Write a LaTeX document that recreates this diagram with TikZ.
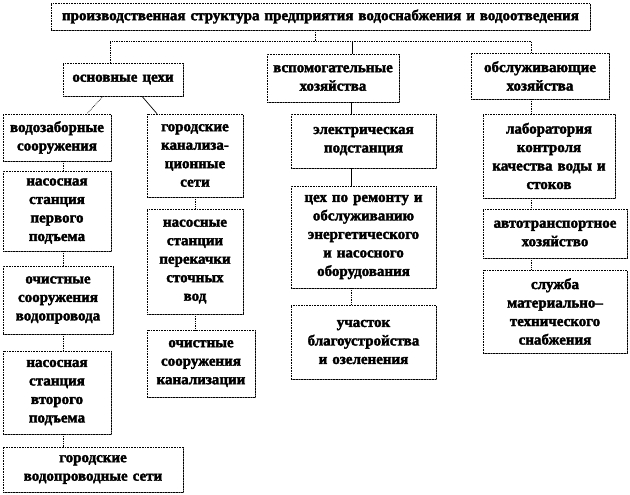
\documentclass[tikz,border=0pt]{standalone}
\usepackage{fontspec}
\setmainfont{Liberation Serif}
\newfontfamily\bxfont[FakeBold=2.2]{Liberation Serif}
\usetikzlibrary{shadows}
\tikzset{
  box/.style={draw, densely dotted, line width=0.6pt, fill=white, inner sep=0pt,
    align=center, font=\bxfont\bfseries\fontsize{15}{18.5}\selectfont,
    drop shadow={shadow xshift=1.2pt, shadow yshift=-1.2pt, fill=black!60, opacity=1}},
  dotc/.style={densely dotted, line width=0.7pt},
  solc/.style={line width=0.7pt},
}
\newcommand\bx[6]{%
  \pgfmathsetmacro\bxw{#4-#2}\pgfmathsetmacro\bxh{#5-#3}%
  \pgfmathsetmacro\bxcx{(#2+#4)/2}\pgfmathsetmacro\bxcy{(#3+#5)/2}%
  \pgfmathsetmacro\bxtw{#4-#2-4}%
  \node[box, minimum width=\bxw pt, minimum height=\bxh pt, text width=\bxtw pt] (#1) at (\bxcx,\bxcy) {#6};}
\begin{document}
\begin{tikzpicture}[x=1pt,y=-1pt]
\useasboundingbox (0,0) rectangle (630,495);
\bx{T}{51}{3}{590}{30}{производственная структура предприятия водоснабжения и водоотведения}
\bx{A}{63}{63}{183}{96}{основные цехи}
\bx{B}{267}{54}{399}{102}{вспомогательные\\хозяйства}
\bx{C}{471}{53}{609}{99}{обслуживающие\\хозяйства}
\bx{A1}{3}{114}{111}{161}{водозаборные\\сооружения}
\bx{A2}{3}{171}{111}{251}{насосная\\станция\\первого\\подъема}
\bx{A3}{3}{266}{113}{334}{очистные\\сооружения\\водопровода}
\bx{A4}{3}{351}{111}{434}{насосная\\станция\\второго\\подъема}
\bx{A5}{3}{447}{183}{492}{городские\\водопроводные сети}
\bx{K1}{147}{114}{243}{197}{городские\\канализа-\\ционные\\сети}
\bx{K2}{147}{209}{243}{314}{насосные\\станции\\перекачки\\сточных\\вод}
\bx{K3}{147}{330}{255}{397}{очистные\\сооружения\\канализации}
\bx{B1}{291}{114}{436}{168}{электрическая\\подстанция}
\bx{B2}{291}{186}{436}{288}{цех по ремонту и\\обслуживанию\\энергетического\\и насосного\\оборудования}
\bx{B3}{291}{305}{436}{379}{участок\\благоустройства\\и озеленения}
\bx{C1}{483}{114}{615}{198}{лаборатория\\контроля\\качества воды и\\стоков}
\bx{C2}{483}{209}{627}{258}{автотранспортное\\хозяйство}
\bx{C3}{483}{270}{627}{353}{служба\\материально–\\технического\\снабжения}
\coordinate (bl) at (110,41);
\coordinate (bm) at (315,41);
\coordinate (bc) at (352,41);
\coordinate (br) at (531,41);
\coordinate (ca) at (63,0);
\coordinate (cb) at (351.5,0);
\coordinate (cc) at (531,0);
\draw[dotc] (T.south -| bm) -- (bm);
\draw[dotc] (A.north -| bl) -- (bl) -- (br) -- (C.north -| br);
\draw[solc] (bc) -- (B.north -| bc);
\draw[dotc] ([xshift=-20pt]A.south) -- ([xshift=30pt]A1.north);
\draw[solc] ([xshift=19pt]A.south) -- ([xshift=-38pt]K1.north);
\draw[dotc] (A1.south -| ca) -- (A2.north -| ca);
\draw[dotc] (A2.south -| ca) -- (A3.north -| ca);
\draw[dotc] (A3.south -| ca) -- (A4.north -| ca);
\draw[dotc] (A4.south -| ca) -- (A5.north -| ca);
\draw[dotc] (K1.south) -- (K2.north);
\draw[dotc] (K2.south) -- (K3.north -| K2.south);
\draw[solc] (B.south -| cb) -- (B1.north -| cb);
\draw[solc] (B1.south -| cb) -- (B2.north -| cb);
\draw[dotc] (B2.south -| cb) -- (B3.north -| cb);
\draw[dotc] (C.south -| cc) -- (C1.north -| cc);
\draw[dotc] (C1.south -| cc) -- (C2.north -| cc);
\draw[dotc] (C2.south -| cc) -- (C3.north -| cc);
\end{tikzpicture}
\end{document}
